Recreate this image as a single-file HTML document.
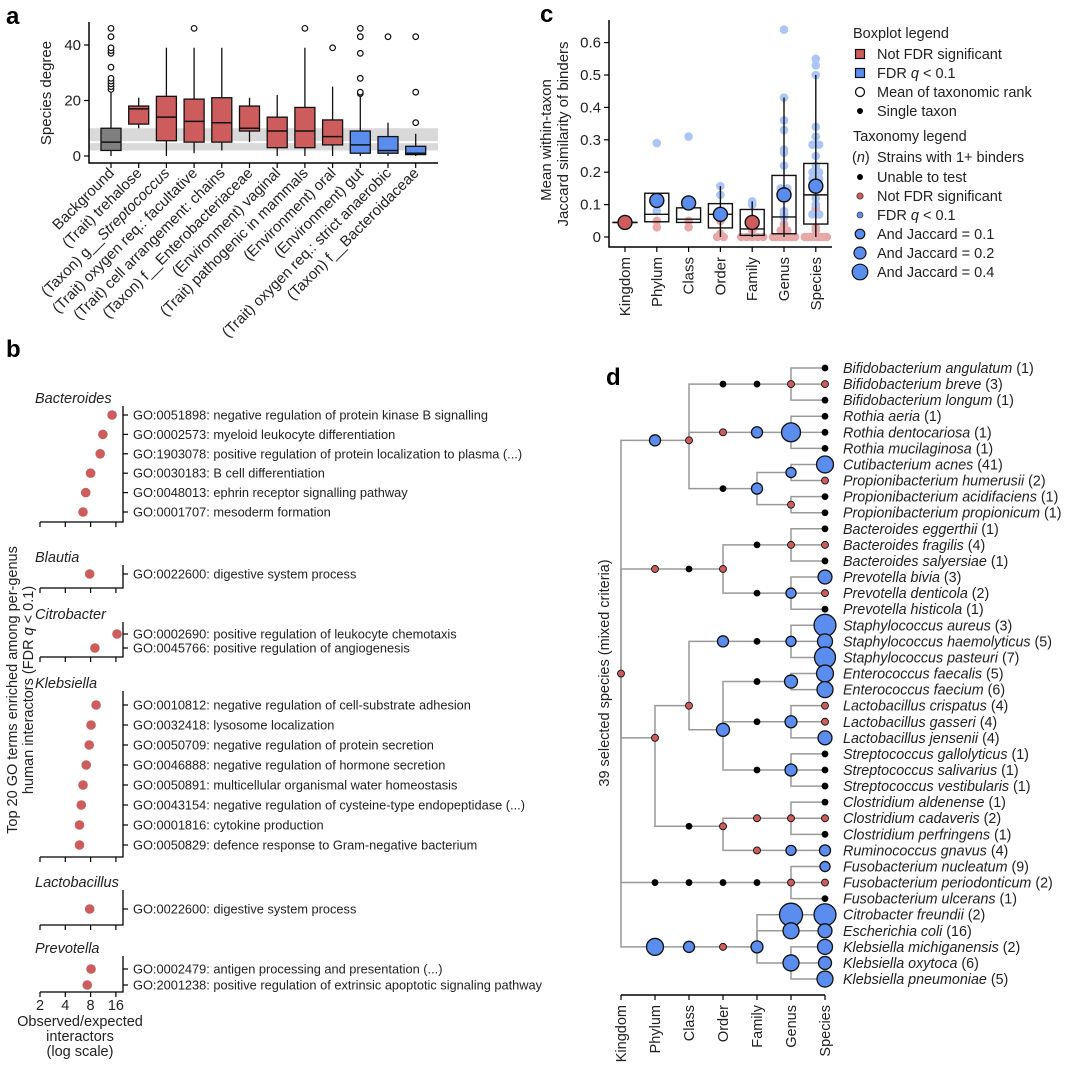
<!DOCTYPE html>
<html><head><meta charset="utf-8">
<style>
body{margin:0;background:#fff;}
svg{display:block;font-family:"Liberation Sans",Arial,sans-serif;}
</style></head>
<body>
<svg id="fig" width="1080" height="1067" viewBox="0 0 1080 1067" xmlns="http://www.w3.org/2000/svg">
<text x="6" y="24" font-size="24" font-weight="bold">a</text>
<text x="6" y="357" font-size="24" font-weight="bold">b</text>
<text x="540" y="22" font-size="24" font-weight="bold">c</text>
<text x="606" y="385" font-size="24" font-weight="bold">d</text>
<g id="pa"></g>
<g id="pb"></g>
<g id="pc"></g>
<g id="pd"></g>
</svg>
<script>
// ---------- Panel a data ----------
const aCats = ["Background","(Trait) trehalose","(Taxon) g__Streptococcus","(Trait) oxygen req.: facultative","(Trait) cell arrangement: chains","(Taxon) f__Enterobacteriaceae","(Environment) vaginal","(Trait) pathogenic in mammals","(Environment) oral","(Environment) gut","(Trait) oxygen req.: strict anaerobic","(Taxon) f__Bacteroidaceae"];
const aQ1 = [2,11.5,5.5,5,5,9,3,3,4,1,1,0.5];
const aMed = [5,17,14,12.5,12,10,9,9,7,4,2,1];
const aQ3 = [10,18,21.5,20.5,21,18,14,17.5,13,9,7,3.5];
const aLo = [0,10,0,1,2,5,0,0,0,0,0,0];
const aHi = [23,21,39,39,39,21,22,39,25,22,12,8];
const aOut = [[24,25,26,27,28,32,37,38,39,43,46],[],[],[46],[],[],[],[46],[39],[22.5,23,28,37,43,46],[43],[12,23,43]];
const aGroup = ["bg","ns","ns","ns","ns","ns","ns","ns","ns","sig","sig","sig"];
const aTicks = [0,20,40];
const aBand = [2,10,5];

// ---------- Panel b data ----------
const bGenera = ["Bacteroides","Blautia","Citrobacter","Klebsiella","Lactobacillus","Prevotella"];
const bTerms = [
 ["GO:0051898: negative regulation of protein kinase B signalling","GO:0002573: myeloid leukocyte differentiation","GO:1903078: positive regulation of protein localization to plasma (...)","GO:0030183: B cell differentiation","GO:0048013: ephrin receptor signalling pathway","GO:0001707: mesoderm formation"],
 ["GO:0022600: digestive system process"],
 ["GO:0002690: positive regulation of leukocyte chemotaxis","GO:0045766: positive regulation of angiogenesis"],
 ["GO:0010812: negative regulation of cell-substrate adhesion","GO:0032418: lysosome localization","GO:0050709: negative regulation of protein secretion","GO:0046888: negative regulation of hormone secretion","GO:0050891: multicellular organismal water homeostasis","GO:0043154: negative regulation of cysteine-type endopeptidase (...)","GO:0001816: cytokine production","GO:0050829: defence response to Gram-negative bacterium"],
 ["GO:0022600: digestive system process"],
 ["GO:0002479: antigen processing and presentation (...)","GO:2001238: positive regulation of extrinsic apoptotic signaling pathway"]];
const bValues = [[14.4,11.2,10.4,8,7,6.5],[7.8],[16.5,9],[9.3,8.1,7.7,7.1,6.5,6.2,5.9,5.9],[7.8],[8.1,7.3]];
const bTicks = [2,4,8,16];

// ---------- Panel c data ----------
const cCats = ["Kingdom","Phylum","Class","Order","Family","Genus","Species"];
const cQ1 = [0.045,0.047,0.045,0.028,0.005,0.01,0.04];
const cMed = [0.045,0.07,0.055,0.07,0.025,0.062,0.13];
const cQ3 = [0.045,0.135,0.09,0.103,0.085,0.19,0.227];
const cLo = [null,null,null,0,0,0,0];
const cHi = [null,null,null,0.157,0.11,0.43,0.5];
const cMean = [0.045,0.113,0.105,0.07,0.045,0.13,0.157];
const cMeanSig = [false,true,true,true,false,true,true];
const cSigPts = [[],[0.29,0.1,0.08],[0.31,0.1],[0.157,0.13,0.07],[0.11,0.1],[0.64,0.43,0.36,0.33,0.27,0.26,0.22,0.15,0.15,0.08,0.07,0.06],[0.55,0.53,0.5,0.34,0.31,0.285,0.285,0.25,0.22,0.2,0.2,0.18,0.18,0.15,0.12,0.1,0.07,0.07]];
const cNsPts = [[],[0.05,0.03],[0.05,0.03],[0.05,0.01,0,0],[0.04,0.02,0,0,0,0,0],[0.06,0.04,0.02,0.02,0,0,0,0,0,0,0],[0.09,0.08,0.07,0.07,0.03,0.02,0,0,0,0,0,0,0,0]];
const cTicks = [0,0.1,0.2,0.3,0.4,0.5,0.6];

// ---------- Panel d data ----------
const dRanks = ["Kingdom","Phylum","Class","Order","Family","Genus","Species"];
const dLeaves = [["Bifidobacterium angulatum",1,"u",0],["Bifidobacterium breve",3,"r",0],["Bifidobacterium longum",1,"u",0],["Rothia aeria",1,"u",0],["Rothia dentocariosa",1,"u",0],["Rothia mucilaginosa",1,"u",0],["Cutibacterium acnes",41,"b",0.28],["Propionibacterium humerusii",2,"r",0],["Propionibacterium acidifaciens",1,"u",0],["Propionibacterium propionicum",1,"u",0],["Bacteroides eggerthii",1,"u",0],["Bacteroides fragilis",4,"r",0],["Bacteroides salyersiae",1,"u",0],["Prevotella bivia",3,"b",0.19],["Prevotella denticola",2,"r",0],["Prevotella histicola",1,"u",0],["Staphylococcus aureus",3,"b",0.47],["Staphylococcus haemolyticus",5,"b",0.22],["Staphylococcus pasteuri",7,"b",0.43],["Enterococcus faecalis",5,"b",0.28],["Enterococcus faecium",6,"b",0.25],["Lactobacillus crispatus",4,"r",0],["Lactobacillus gasseri",4,"r",0],["Lactobacillus jensenii",4,"b",0.19],["Streptococcus gallolyticus",1,"u",0],["Streptococcus salivarius",1,"u",0],["Streptococcus vestibularis",1,"u",0],["Clostridium aldenense",1,"u",0],["Clostridium cadaveris",2,"r",0],["Clostridium perfringens",1,"u",0],["Ruminococcus gnavus",4,"b",0.12],["Fusobacterium nucleatum",9,"b",0.1],["Fusobacterium periodonticum",2,"r",0],["Fusobacterium ulcerans",1,"u",0],["Citrobacter freundii",2,"b",0.47],["Escherichia coli",16,"b",0.19],["Klebsiella michiganensis",2,"b",0.22],["Klebsiella oxytoca",6,"b",0.165],["Klebsiella pneumoniae",5,"b",0.25]];
// internal nodes: [id, parentId, rank, yIndex, status, jaccard]
const dNodes = [
 ["K",null,0,19,"r",0],
 ["pA","K",1,4.5,"b",0.12],["cA","pA",2,4.5,"r",0],
 ["oBi","cA",3,1,"u",0],["fBi","oBi",4,1,"u",0],["gBi","fBi",5,1,"r",0],
 ["oMi","cA",3,4,"r",0],["fMi","oMi",4,4,"b",0.12],["gRo","fMi",5,4,"b",0.35],
 ["oPr","cA",3,7.5,"u",0],["fPr","oPr",4,7.5,"b",0.12],["gCu","fPr",5,6.5,"b",0.1],["gPr","fPr",5,8.5,"r",0],
 ["pB","K",1,12.5,"r",0],["cB","pB",2,12.5,"u",0],["oB","cB",3,12.5,"r",0],
 ["fBa","oB",4,11,"u",0],["gBa","fBa",5,11,"r",0],["fPv","oB",4,14,"u",0],["gPv","fPv",5,14,"b",0.1],
 ["pF","K",1,23,"r",0],["cBac","pF",2,21,"r",0],
 ["oBcl","cBac",3,17,"b",0.12],["fSt","oBcl",4,17,"u",0],["gSt","fSt",5,17,"b",0.1],
 ["oLb","cBac",3,22.5,"b",0.165],["fEn","oLb",4,19.5,"u",0],["gEn","fEn",5,19.5,"b",0.165],
 ["fLa","oLb",4,22,"u",0],["gLa","fLa",5,22,"b",0.14],["fSp","oLb",4,25,"u",0],["gSp","fSp",5,25,"b",0.14],
 ["cCl","pF",2,28.5,"u",0],["oCl","cCl",3,28.5,"r",0],["fCl","oCl",4,28,"r",0],["gCl","fCl",5,28,"r",0],
 ["fLc","oCl",4,30,"r",0],["gRu","fLc",5,30,"b",0.1],
 ["pFu","K",1,32,"u",0],["cFu","pFu",2,32,"u",0],["oFu","cFu",3,32,"u",0],["fFu","oFu",4,32,"u",0],["gFu","fFu",5,32,"r",0],
 ["pP","K",1,36,"b",0.28],["cP","pP",2,36,"b",0.12],["oP","cP",3,36,"r",0],["fE","oP",4,36,"b",0.14],
 ["gCi","fE",5,34,"b",0.52],["gEs","fE",5,35,"b",0.25],["gKl","fE",5,37,"b",0.25]];
const dLeafParent = ["gBi","gBi","gBi","gRo","gRo","gRo","gCu","gCu","gPr","gPr","gBa","gBa","gBa","gPv","gPv","gPv","gSt","gSt","gSt","gEn","gEn","gLa","gLa","gLa","gSp","gSp","gSp","gCl","gCl","gCl","gRu","gFu","gFu","gFu","gCi","gEs","gKl","gKl","gKl"];

// ---------- helpers ----------
const NS="http://www.w3.org/2000/svg";
function mk(tag, attrs, parent){const e=document.createElementNS(NS,tag);for(const k in attrs)e.setAttribute(k,attrs[k]);parent.appendChild(e);return e;}
const RED="#cd5c5c", BLUE="#5b8def", GRAY="#7f7f7f";

// ---------- Panel a ----------
(function(){
 const g=document.getElementById('pa');
 const y=v=>156-v*2.775, x=i=>111+i*27.7;
 let el;
 el=mk('rect',{x:89,y:y(aBand[1]),width:349,height:y(aBand[0])-y(aBand[1]),fill:"#d9d9d9"},g);
 
 
 el=mk('line',{x1:89,x2:438,y1:y(aBand[2]),y2:y(aBand[2]),stroke:"#fff","stroke-width":2},g);
 
 
 el=mk('path',{d:"M89,22V163H438",fill:"none",stroke:"#000","stroke-width":1.5},g);
 
 
 aTicks.forEach(t=>{
  el=mk('line',{x1:84,x2:89,y1:y(t),y2:y(t),stroke:"#000","stroke-width":1.2},g);
  
  
  el=mk('text',{x:81,y:y(t)+5,"font-size":15,"text-anchor":"end",fill:"#222"},g);el.textContent=t;
  
  
 });
 el=mk('text',{transform:"translate(51,93) rotate(-90)","font-size":15,"text-anchor":"middle",fill:"#222"},g);el.textContent="Species degree";
 
 
 aCats.forEach((c,i)=>{
  const cx=x(i), col=aGroup[i]=="bg"?GRAY:aGroup[i]=="ns"?RED:BLUE;
  el=mk('line',{x1:cx,x2:cx,y1:y(aLo[i]),y2:y(aHi[i]),stroke:"#111","stroke-width":1.3},g);
  
  
  el=mk('rect',{x:cx-10,y:y(aQ3[i]),width:20,height:y(aQ1[i])-y(aQ3[i]),fill:col,stroke:"#111","stroke-width":1.3},g);
  
  
  el=mk('line',{x1:cx-10,x2:cx+10,y1:y(aMed[i]),y2:y(aMed[i]),stroke:"#111","stroke-width":1.5},g);
  
  
  aOut[i].forEach(o=>{
   el=mk('circle',{cx:cx,cy:y(o),r:2.8,fill:"#fff",stroke:"#111","stroke-width":1.2},g);
   
   
  });
  el=mk('line',{x1:cx,x2:cx,y1:163,y2:168,stroke:"#000","stroke-width":1.2},g);
  
  
  const lab=mk('text',{transform:`translate(${cx+4},${174}) rotate(-45)`,"font-size":15,"text-anchor":"end",fill:"#222"},g);
  
  
  const m=c.match(/^(\(Taxon\) g__)(Streptococcus)$/);
  if(m){lab.textContent=m[1];const ts=mk('tspan',{"font-style":"italic"},lab);ts.textContent=m[2];}
  else lab.textContent=c;
 });
})();

// ---------- Panel b ----------
(function(){
 const g=document.getElementById('pb');
 const hdrY=[398,557,614,683,882,948], startY=[415,574,634,705,909,969], step=[19.4,0,14,20,0,16], axY=[522,588,657,857,925,992];
 const x=v=>40+(Math.log2(v)-1)*25.3;
 let el;
 bGenera.forEach((gn,gi)=>{
  el=mk('text',{x:35,y:hdrY[gi]+5,"font-size":14.5,"font-style":"italic",fill:"#222"},g);el.textContent=gn;
  
  
  el=mk('path',{d:`M123,${hdrY[gi]+8}V${axY[gi]}H40`,fill:"none",stroke:"#000","stroke-width":1.3},g);
  
  
  bTicks.forEach(t=>{
   el=mk('line',{x1:x(t),x2:x(t),y1:axY[gi],y2:axY[gi]+5,stroke:"#000","stroke-width":1.2},g);
   
   
  });
  bTerms[gi].forEach((t,j)=>{
   const yy=startY[gi]+j*step[gi];
   el=mk('line',{x1:123,x2:128,y1:yy,y2:yy,stroke:"#000","stroke-width":1.2},g);
   
   
   el=mk('text',{x:133,y:yy+4.5,"font-size":12.8,fill:"#222"},g);el.textContent=t;
   
   
   el=mk('circle',{cx:x(bValues[gi][j]),cy:yy,r:4.8,fill:RED},g);
   
   
  });
 });
 bTicks.forEach(t=>{
  el=mk('text',{x:x(t),y:1010,"font-size":14.5,"text-anchor":"middle",fill:"#222"},g);el.textContent=t;
  
  
 });
 ["Observed/expected","interactors","(log scale)"].forEach((s,i)=>{
  el=mk('text',{x:80,y:1026+i*15,"font-size":14.5,"text-anchor":"middle",fill:"#222"},g);el.textContent=s;
  
  
 });
 el=mk('text',{transform:"translate(17,690) rotate(-90)","font-size":14.5,"text-anchor":"middle",fill:"#222"},g);el.textContent="Top 20 GO terms enriched among per-genus";
 
 
 el=mk('text',{transform:"translate(33,690) rotate(-90)","font-size":14.5,"text-anchor":"middle",fill:"#222"},g);
 el.innerHTML='human interactors (FDR <tspan font-style="italic">q</tspan> &lt; 0.1)';
 
 
})();

// ---------- Panel c ----------
(function(){
 const g=document.getElementById('pc');
 const y=v=>237-v*324, x=i=>625+i*31.8;
 let el;
 el=mk('path',{d:"M609,20V247H832",fill:"none",stroke:"#000","stroke-width":1.5},g);
 
 
 cTicks.forEach(t=>{
  el=mk('line',{x1:604,x2:609,y1:y(t),y2:y(t),stroke:"#000","stroke-width":1.2},g);
  
  
  el=mk('text',{x:601,y:y(t)+5,"font-size":15,"text-anchor":"end",fill:"#222"},g);el.textContent=t;
  
  
 });
 el=mk('text',{transform:"translate(551,140) rotate(-90)","font-size":15,"text-anchor":"middle",fill:"#222"},g);el.textContent="Mean within-taxon";
 
 
 el=mk('text',{transform:"translate(568,134) rotate(-90)","font-size":15,"text-anchor":"middle",fill:"#222"},g);el.textContent="Jaccard similarity of binders";
 
 
 function pts(arr,cx,col,name){
  const cnt={},seen={};
  arr.forEach(v=>{const k=v.toFixed(2);cnt[k]=(cnt[k]||0)+1;});
  arr.forEach(v=>{const k=v.toFixed(2);seen[k]=(seen[k]||0);const n=cnt[k],sp=n>1?Math.min(6.5,22/(n-1)):0,o=(seen[k]-(n-1)/2)*sp;seen[k]++;
   el=mk('circle',{cx:cx+o,cy:y(v),r:4.3,fill:col},g);
   
   });
 }
 cCats.forEach((c,i)=>{
  const cx=x(i);
  pts(cNsPts[i],cx,"#e9a8a8",'taxon-point-not-significant');
  pts(cSigPts[i],cx,"#aac5f6",'taxon-point-significant');
  if(cHi[i]!==null){
   el=mk('line',{x1:cx,x2:cx,y1:y(cLo[i]),y2:y(cHi[i]),stroke:"#111","stroke-width":1.4},g);
   
   
  }
  const w=12;
  el=mk('rect',{x:cx-w,y:y(cQ3[i]),width:2*w,height:Math.max(0.1,y(cQ1[i])-y(cQ3[i])),fill:"none",stroke:"#111","stroke-width":1.4},g);
  
  
  el=mk('line',{x1:cx-w,x2:cx+w,y1:y(cMed[i]),y2:y(cMed[i]),stroke:"#111","stroke-width":1.4},g);
  
  
  el=mk('circle',{cx:cx,cy:y(cMean[i]),r:7,fill:cMeanSig[i]?BLUE:RED,stroke:"#111","stroke-width":1.4},g);
  
  
  el=mk('line',{x1:cx,x2:cx,y1:247,y2:252,stroke:"#000","stroke-width":1.2},g);
  
  
  el=mk('text',{transform:`translate(${cx+5},257) rotate(-90)`,"font-size":15,"text-anchor":"end",fill:"#222"},g);el.textContent=c;
  
  
 });
 // legend
 const L=[["h","Boxplot legend",33],["sqr","Not FDR significant",54],["sqb","FDR <i>q</i> &lt; 0.1",73],["open","Mean of taxonomic rank",92],["dot","Single taxon",111],["h","Taxonomy legend",136],["n","Strains with 1+ binders",157],["dot","Unable to test",177],["red","Not FDR significant",196],["blue","FDR <i>q</i> &lt; 0.1",215],["j1","And Jaccard = 0.1",234],["j2","And Jaccard = 0.2",253],["j4","And Jaccard = 0.4",272]];
 L.forEach(([t,s,yy])=>{
  if(t=="h"){el=mk('text',{x:853,y:yy+5,"font-size":14.5,fill:"#222"},g);el.textContent=s;return;}
  const mx=860;
  if(t=="sqr"||t=="sqb"){el=mk('rect',{x:mx-4.5,y:yy-4.5,width:9,height:9,fill:t=="sqr"?RED:BLUE,stroke:"#111","stroke-width":1.2},g);}
  else if(t=="open"){el=mk('circle',{cx:mx,cy:yy,r:4.5,fill:"#fff",stroke:"#111","stroke-width":1.3},g);}
  else if(t=="dot"){el=mk('circle',{cx:mx,cy:yy,r:3,fill:"#000"},g);}
  else if(t=="red"){el=mk('circle',{cx:mx,cy:yy,r:3.2,fill:RED,stroke:"#333","stroke-width":0.7},g);}
  else if(t=="blue"){el=mk('circle',{cx:mx,cy:yy,r:3,fill:BLUE,stroke:"#333","stroke-width":0.7},g);}
  else if(t=="n"){el=mk('text',{x:852,y:yy+5,"font-size":14.5,fill:"#222"},g);el.innerHTML='(<tspan font-style="italic">n</tspan>)';}
  else {const r={j1:4.8,j2:6,j4:7.8}[t];el=mk('circle',{cx:mx,cy:yy,r:r,fill:BLUE,stroke:"#111","stroke-width":1.2},g);}
  
  
  el=mk('text',{x:877,y:yy+5,"font-size":14.5,fill:"#222"},g);el.innerHTML=s.replace(/<i>/g,'<tspan font-style="italic">').replace(/<\/i>/g,'</tspan>');
  
  
 });
})();

// ---------- Panel d ----------
(function(){
 const g=document.getElementById('pd');
 const X=r=>621+r*34, Y=i=>368+i*16.08;
 const rad=j=>16*Math.sqrt(j);
 const pos={};
 dNodes.forEach(n=>{pos[n[0]]=[X(n[2]),Y(n[3])];});
 let el;
 const lines=mk('g',{stroke:"#999","stroke-width":1.5,fill:"none"},g);
 
 
 dNodes.forEach(n=>{if(n[1]){const p=pos[n[1]],c=pos[n[0]];
  el=mk('path',{d:`M${p[0]},${p[1]}V${c[1]}H${c[0]}`},lines);
  
  }});
 dLeaves.forEach((l,i)=>{const p=pos[dLeafParent[i]];
  el=mk('path',{d:`M${p[0]},${p[1]}V${Y(i)}H${X(6)}`},lines);
  
  });
 function node(cx,cy,st,j,name){
  if(st=="u")el=mk('circle',{cx,cy,r:3.4,fill:"#000"},g);
  else if(st=="r")el=mk('circle',{cx,cy,r:3.5,fill:RED,stroke:"#111","stroke-width":0.9},g);
  else el=mk('circle',{cx,cy,r:rad(j),fill:BLUE,stroke:"#111","stroke-width":1.3},g);
  
  
 }
 dNodes.forEach(n=>node(pos[n[0]][0],pos[n[0]][1],n[4],n[5],'taxon-node'));
 dLeaves.forEach((l,i)=>{
  node(X(6),Y(i),l[2],l[3],'species-node');
  el=mk('text',{x:843,y:Y(i)+5,"font-size":14.3,fill:"#222"},g);
  el.innerHTML=`<tspan font-style="italic">${l[0]}</tspan> (${l[1]})`;
  
  
 });
 el=mk('line',{x1:X(0),x2:X(6),y1:995,y2:995,stroke:"#000","stroke-width":1.5},g);
 
 
 dRanks.forEach((r,i)=>{
  el=mk('line',{x1:X(i),x2:X(i),y1:995,y2:1000,stroke:"#000","stroke-width":1.2},g);
  
  
  el=mk('text',{transform:`translate(${X(i)+5},1005) rotate(-90)`,"font-size":14.5,"text-anchor":"end",fill:"#222"},g);el.textContent=r;
  
  
 });
 el=mk('text',{transform:"translate(609,673) rotate(-90)","font-size":14.5,"text-anchor":"middle",fill:"#222"},g);el.textContent="39 selected species (mixed criteria)";
 
 
})();
</script>
</body></html>
